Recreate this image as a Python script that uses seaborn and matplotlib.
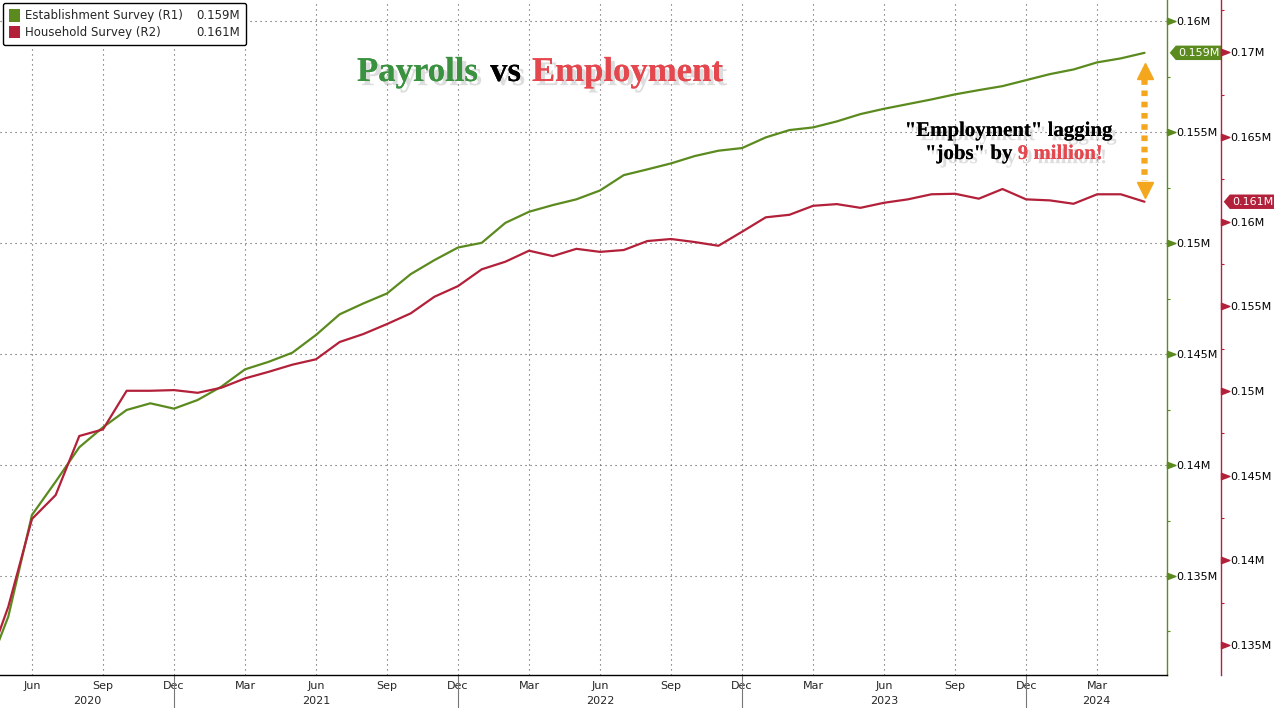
import numpy as np
import pandas as pd
import matplotlib
matplotlib.use("Agg")
import matplotlib.pyplot as plt
import matplotlib.patheffects as pe
from matplotlib.patches import Patch
from matplotlib.path import Path
from matplotlib.transforms import blended_transform_factory as blend, offset_copy
from matplotlib.ticker import FixedLocator
import seaborn as sns

# ---------------- data ----------------
months = pd.period_range("2020-04", "2024-05", freq="M").strftime("%Y-%m").tolist()

establishment = [
    0.1304, 0.13317, 0.13775, 0.13925, 0.1408, 0.1417, 0.14248, 0.14278, 0.14254,
    0.14293, 0.14353, 0.14431, 0.14465, 0.14506, 0.14586, 0.14679, 0.14728, 0.14773,
    0.1486, 0.14923, 0.1498,
    0.15001, 0.15091, 0.15141, 0.15171, 0.15197, 0.15237, 0.15306, 0.15332, 0.15359,
    0.15392, 0.15416, 0.15428,
    0.15476, 0.15509, 0.15521, 0.15548, 0.15581, 0.15605, 0.15626, 0.15647, 0.1567,
    0.15689, 0.15707, 0.15734,
    0.15761, 0.15782, 0.15814, 0.15832, 0.15857,
]
household = [
    0.13335, 0.13726, 0.14244, 0.14385, 0.14734, 0.14773, 0.15001, 0.15001, 0.15005,
    0.14989, 0.15019, 0.15074, 0.15113, 0.15155, 0.15187, 0.15289, 0.15336, 0.15395,
    0.15458, 0.15556, 0.15619,
    0.15718, 0.15763, 0.15828, 0.15796, 0.15839, 0.15821, 0.15832, 0.15885, 0.15897,
    0.15879, 0.15857, 0.1594,
    0.16025, 0.1604, 0.16093, 0.16103, 0.16081, 0.16111, 0.16131, 0.16161, 0.16164,
    0.16135, 0.16192, 0.16131,
    0.16125, 0.16105, 0.16161, 0.16161, 0.16117,
]

series_names = ["Establishment Survey (R1)", "Household Survey (R2)"]
last_labels = ["0.159M", "0.161M"]

month_tick_labels = ["Jun", "Sep", "Dec", "Mar", "Jun", "Sep", "Dec", "Mar",
                     "Jun", "Sep", "Dec", "Mar", "Jun", "Sep", "Dec", "Mar"]
year_labels = ["2020", "2021", "2022", "2023", "2024"]

est_ticks = [0.135, 0.14, 0.145, 0.15, 0.155, 0.16]
est_tick_labels = ["0.135M", "0.14M", "0.145M", "0.15M", "0.155M", "0.16M"]
hh_ticks = [0.135, 0.14, 0.145, 0.15, 0.155, 0.16, 0.165, 0.17]
hh_tick_labels = ["0.135M", "0.14M", "0.145M", "0.15M", "0.155M", "0.16M", "0.165M", "0.17M"]

title_parts = ["Payrolls", "vs", "Employment"]
note_line1 = "\"Employment\" lagging"
note_line2 = ["\"jobs\" by", "9 million!"]

# ---------------- style ----------------
GREEN = "#5b8a1e"
RED = "#b3203a"
T_GREEN = "#3a9140"
T_RED = "#e5474f"
ORANGE = "#f4a71d"
GRID = "#555555"

sns.set_style("white")
plt.rcParams["font.family"] = ["DejaVu Sans"]

W, H = 1274, 708
fig = plt.figure(figsize=(W / 100, H / 100), dpi=100)
ax = fig.add_axes([0, 1 - 675 / H, 1167 / W, 675 / H])
ax2 = ax.twinx()

df = pd.DataFrame({"idx": np.arange(len(months)), "month": months,
                   "est": establishment, "hh": household})

sns.lineplot(data=df, x="idx", y="est", ax=ax, color=GREEN, lw=1.6, estimator=None, legend=False)
sns.lineplot(data=df, x="idx", y="hh", ax=ax2, color=RED, lw=1.6, estimator=None, legend=False)

ax.set_xlim(0.65, 49.95)
ax.set_ylim(0.13054, 0.16095)
ax2.set_ylim(0.13323, 0.17308)
for a in (ax, ax2):
    a.set_xlabel("")
    a.set_ylabel("")

# spines
ax.spines["left"].set_visible(False)
ax.spines["top"].set_visible(False)
ax.spines["right"].set_color(GREEN)
ax.spines["right"].set_linewidth(1.0)
ax.spines["bottom"].set_color("black")
ax.spines["bottom"].set_linewidth(1.0)
for s in ("left", "top", "bottom"):
    ax2.spines[s].set_visible(False)
ax2.spines["right"].set_color(RED)
ax2.spines["right"].set_linewidth(1.0)
ax2.spines["right"].set_position(("outward", 54 * 0.72))

# y ticks
ax.yaxis.tick_right()
ax.yaxis.set_major_locator(FixedLocator(est_ticks))
ax.set_yticklabels(est_tick_labels)
ax.yaxis.set_minor_locator(FixedLocator(list(np.array(est_ticks) - 0.0025) + [est_ticks[-1] + 0.0025]))
ax2.yaxis.set_major_locator(FixedLocator(hh_ticks))
ax2.set_yticklabels(hh_tick_labels)
ax2.yaxis.set_minor_locator(FixedLocator(list(np.array(hh_ticks) - 0.0025) + [hh_ticks[-1] + 0.0025]))
for a, c in ((ax, GREEN), (ax2, RED)):
    a.tick_params(axis="y", which="major", length=0, pad=7, labelsize=8, labelcolor="black")
    a.tick_params(axis="y", which="minor", length=2.5, width=0.8, color=c, direction="out")

tri = Path([(0, -0.38), (1, 0), (0, 0.38), (0, -0.38)],
           [Path.MOVETO, Path.LINETO, Path.LINETO, Path.CLOSEPOLY])
ax.plot([1] * len(est_ticks), est_ticks, ls="none", marker=tri, ms=12, color=GREEN,
        transform=blend(ax.transAxes, ax.transData), clip_on=False)
ax2.plot([1] * len(hh_ticks), hh_ticks, ls="none", marker=tri, ms=12, color=RED,
         transform=offset_copy(blend(ax2.transAxes, ax2.transData), fig=fig, x=54, y=0, units="dots"),
         clip_on=False)

# x ticks
tick_idx = [i for i, m in enumerate(months) if int(m[5:]) % 3 == 0]
ax.xaxis.set_major_locator(FixedLocator(tick_idx))
ax.set_xticklabels(month_tick_labels)
ax.xaxis.set_minor_locator(FixedLocator(list(range(len(months)))))
ax.tick_params(axis="x", which="both", length=3, width=0.8, color="black",
               direction="out", pad=1, labelsize=8)

# grid
ax.grid(True, which="major", axis="both", color=GRID, ls=(0, (1, 3.5)), lw=0.8)

# year separators and labels
dec_idx = [i for i, m in enumerate(months) if m.endswith("-12")]
sep_tr = blend(ax.transData, ax.transAxes)
for d in dec_idx:
    ax.plot([d, d], [0, -34 / 675], transform=sep_tr, color="#777777", lw=0.8, clip_on=False)
x0, x1 = ax.get_xlim()
bounds = [x0] + dec_idx + [x1]
year_tr = offset_copy(sep_tr, fig=fig, x=0, y=-26, units="dots")
for k, yl in enumerate(year_labels):
    cx = (bounds[k] + bounds[k + 1]) / 2
    ax.text(cx, 0, yl, transform=year_tr, ha="center", va="center", fontsize=8)

# legend
handles = [Patch(fc=GREEN, ec="none"), Patch(fc=RED, ec="none"),
           Patch(alpha=0), Patch(alpha=0)]
labels = series_names + last_labels
leg = ax2.legend(handles, labels, ncol=2, loc="upper left",
                 bbox_to_anchor=(3 / 1167, 1 - 3 / 675), borderaxespad=0,
                 fontsize=8.5, frameon=True, fancybox=True, edgecolor="black",
                 framealpha=1, handlelength=0.95, handleheight=1.3, handletextpad=0.45,
                 columnspacing=-0.3, labelspacing=0.28, borderpad=0.5)
leg.get_frame().set_linewidth(1.0)


# value tags
def tag_box(x0, y0, width, height, mutation_size):
    pad = 0.2 * mutation_size
    x0 -= pad
    y0 -= pad
    width += 2 * pad
    height += 2 * pad
    tip = height * 0.42
    verts = [(x0 - tip, y0 + height / 2), (x0, y0), (x0 + width, y0),
             (x0 + width, y0 + height), (x0, y0 + height), (x0 - tip, y0 + height / 2)]
    codes = [Path.MOVETO] + [Path.LINETO] * 4 + [Path.CLOSEPOLY]
    return Path(verts, codes)


ax.annotate(last_labels[0], xy=(1, establishment[-1]), xycoords=blend(ax.transAxes, ax.transData),
            xytext=(11, 0), textcoords="offset pixels", ha="left", va="center",
            color="white", fontsize=8, annotation_clip=False,
            bbox=dict(boxstyle=tag_box, fc=GREEN, ec="none"))
ax2.annotate(last_labels[1], xy=(1, household[-1]), xycoords=blend(ax2.transAxes, ax2.transData),
             xytext=(65, 0), textcoords="offset pixels", ha="left", va="center",
             color="white", fontsize=8, annotation_clip=False,
             bbox=dict(boxstyle=tag_box, fc=RED, ec="none"))

# orange double arrow between last values
last_i = len(months) - 1
ax2.annotate("", xy=(last_i, household[-1]), xycoords=ax2.transData,
             xytext=(last_i, establishment[-1]), textcoords=ax.transData,
             arrowprops=dict(arrowstyle="-", lw=4.5, ls=(0, (0.9, 0.9)), color=ORANGE,
                             shrinkA=19, shrinkB=15, capstyle="butt"), annotation_clip=False)
ax2.plot([last_i], [establishment[-1]], marker="^", ms=12, color=ORANGE, ls="none",
         transform=offset_copy(ax.transData, fig=fig, x=0, y=-18, units="dots"), clip_on=False)
ax2.plot([last_i], [household[-1]], marker="v", ms=12, color=ORANGE, ls="none",
         transform=offset_copy(ax2.transData, fig=fig, x=0, y=12, units="dots"), clip_on=False)

# title and note texts with shadows
shadow = [pe.withSimplePatchShadow(offset=(3, -3), shadow_rgbFace="#909090", alpha=0.3),
          pe.Normal()]
renderer = fig.canvas.get_renderer()


def fig_pt(x, y):
    return x / W, 1 - y / H


def put(text, x, y, color, size, ha="left"):
    t = fig.text(*fig_pt(x, y), text, color=color, fontsize=size, fontweight="bold",
                 family=["Liberation Serif", "DejaVu Serif"], ha=ha, va="baseline",
                 path_effects=shadow)
    return t, t.get_window_extent(renderer).width


tx = 357
for txt, col, gap in zip(title_parts, [T_GREEN, "black", T_RED], [12, 11, 0]):
    _, w = put(txt, tx, 81, col, 25)
    tx += w + gap

put(note_line1, 1009, 136, "black", 15, ha="center")
_, w1 = put(note_line2[0], 925, 159, "black", 15)
put(note_line2[1], 925 + w1 + 5, 159, T_RED, 15)

fig.savefig("out.png", dpi=100)
